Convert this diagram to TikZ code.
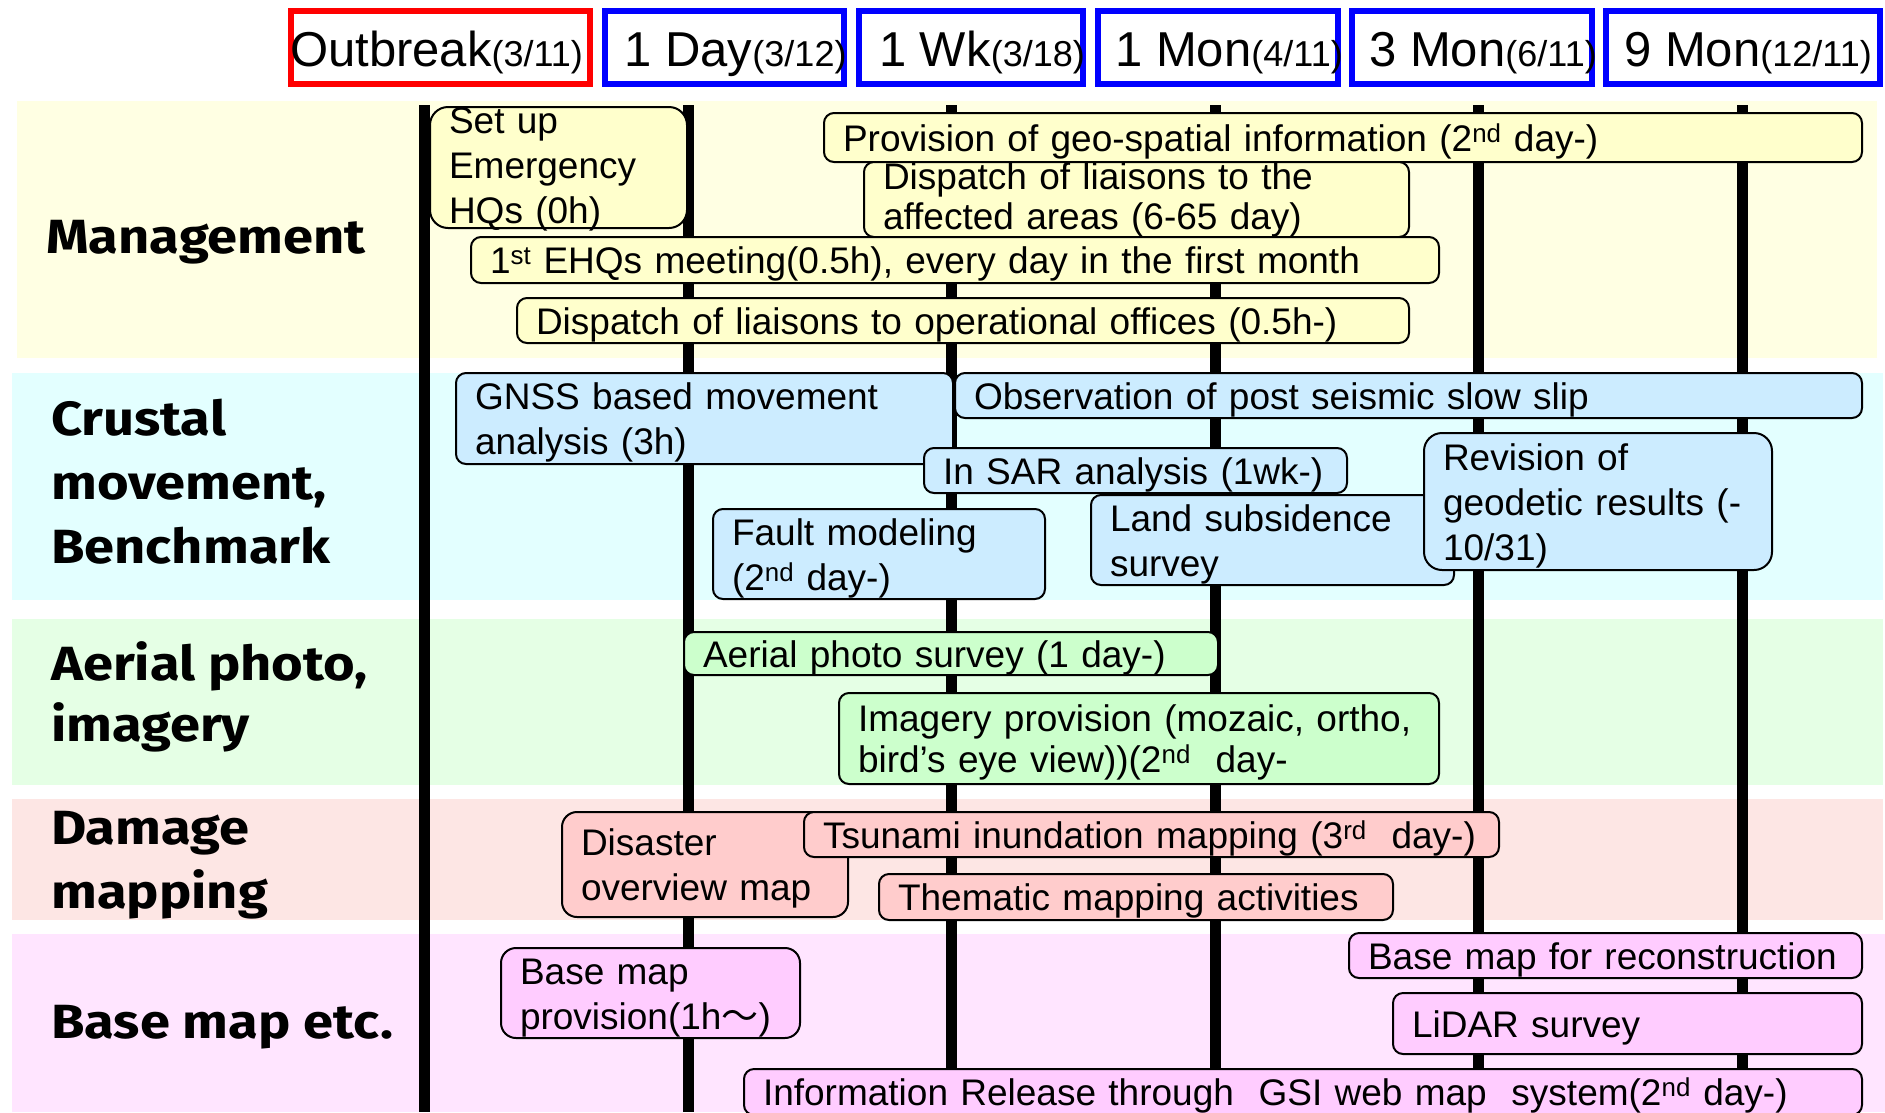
\documentclass[tikz,border=0pt]{standalone}
\usepackage{fontspec}
\setmainfont{Liberation Sans}
\newfontfamily\rowfont{Fira Sans}[FakeStretch=1.13]
\newfontfamily\cjkfont{Noto Sans CJK JP}

\definecolor{mgmtbg}{HTML}{FFFFE3}
\definecolor{mgmtbox}{HTML}{FFFFCC}
\definecolor{crustbg}{HTML}{E3FFFF}
\definecolor{crustbox}{HTML}{CCECFF}
\definecolor{aerialbg}{HTML}{E5FFE5}
\definecolor{aerialbox}{HTML}{CCFFCC}
\definecolor{damagebg}{HTML}{FDE6E4}
\definecolor{damagebox}{HTML}{FFCCCC}
\definecolor{basebg}{HTML}{FFE5FF}
\definecolor{basebox}{HTML}{FFCCFF}

\newcommand{\datetag}[1]{{\fontsize{36}{36}\selectfont #1}}

\tikzset{
  period/.style={draw=blue,line width=6pt,fill=white,inner sep=0pt,text height=38pt,text depth=0pt,
    font=\fontsize{49}{49}\selectfont,execute at begin node={\hskip#1},execute at end node={\hskip-#1}},
  period/.default=11pt,
  rowlabel/.style={anchor=base west,align=left,inner sep=0pt,font=\rowfont\bfseries\fontsize{48}{64}\selectfont},
  taskbase/.style={draw,line width=2pt,rounded corners=10pt,inner xsep=19pt,inner ysep=0pt,align=left,
    font=\fontsize{37}{45}\selectfont},
  task/.style={taskbase,execute at begin node={\rule{0pt}{35pt}}},
  timeline/.style={line width=11pt}
}

\begin{document}
\begin{tikzpicture}[x=1pt,y=-1pt]
    \useasboundingbox (0,0) rectangle (1885,1112);
    % row bands
    \fill[mgmtbg] (17,101) rectangle (1877,358);
    \fill[crustbg] (12,373) rectangle (1883,600);
    \fill[aerialbg] (12,619) rectangle (1883,785);
    \fill[damagebg] (12,799) rectangle (1883,920);
    \fill[basebg] (12,934) rectangle (1885,1112);

    \foreach \x in {424,688,951,1215,1478,1742}
        \draw[timeline] (\x,105) -- (\x,1112);

    % time axis
    \node[period=-4pt,draw=red,minimum width=299pt,minimum height=73pt] (outbreak) at (440.5,47.5) {Outbreak\datetag{(3/11)}};
    \node[period,minimum width=239pt,minimum height=73pt] (day1) at (724.5,47.5) {1 Day\datetag{(3/12)}};
    \node[period,minimum width=224pt,minimum height=73pt] (wk1) at (971,47.5) {1 Wk\datetag{(3/18)}};
    \node[period,minimum width=240pt,minimum height=73pt] (mon1) at (1218,47.5) {1 Mon\datetag{(4/11)}};
    \node[period,minimum width=240pt,minimum height=73pt] (mon3) at (1472,47.5) {3 Mon\datetag{(6/11)}};
    \node[period=5pt,minimum width=274pt,minimum height=73pt] (mon9) at (1743,47.5) {9 Mon\datetag{(12/11)}};

    % row labels (base = last line)
    \node[rowlabel] (mgmt) at (46,253) {Management};
    \node[rowlabel] (crust) at (51,563) {Crustal\\movement,\\Benchmark};
    \node[rowlabel,font=\rowfont\bfseries\fontsize{48}{61}\selectfont] (aerial) at (51,741) {Aerial photo,\\imagery};
    \node[rowlabel] (damage) at (51,908) {Damage\\mapping};
    \node[rowlabel] (basemap) at (51,1038) {Base map etc.};

    % management
    \node[taskbase,fill=mgmtbox,text width=219pt,minimum height=121pt,rounded corners=18pt,
        text depth=94pt] (setup) at (558.5,167.5) {Set up\\Emergency\\HQs (0h)};
    \node[task,fill=mgmtbox,text width=1000pt,minimum height=49pt] (geoinfo) at (1343,137.5) {Provision of geo-spatial information (2\textsuperscript{nd} day-)};
    \node[taskbase,fill=mgmtbox,text width=507pt,minimum height=75pt,
        font=\fontsize{37}{40}\selectfont] (liaisons) at (1136.5,199.5) {Dispatch of liaisons to the\\affected areas (6-65 day)};
    \node[task,fill=mgmtbox,text width=930pt,minimum height=46pt] (meeting) at (955,260) {1\textsuperscript{st} EHQs meeting(0.5h), every day in the first month};
    \node[task,fill=mgmtbox,text width=854pt,minimum height=45pt] (offices) at (963,320.5) {Dispatch of liaisons to operational offices (0.5h-)};

    % crustal movement
    \node[task,fill=crustbox,text width=459pt,minimum height=91pt] (gnss) at (704.5,418.5) {GNSS based movement\\analysis (3h)};
    \node[task,fill=crustbox,text width=869pt,minimum height=45pt] (slowslip) at (1408.5,395.5) {Observation of post seismic slow slip};
    \node[task,fill=crustbox,text width=385pt,minimum height=45pt] (insar) at (1135.5,470.5) {In SAR analysis (1wk-)};
    \node[task,fill=crustbox,text width=294pt,minimum height=90pt] (fault) at (879,554) {Fault modeling\\(2\textsuperscript{nd} day-)};
    \node[task,fill=crustbox,text width=325pt,minimum height=90pt] (subsidence) at (1272.5,540) {Land subsidence\\survey};
    \node[task,fill=crustbox,text width=310pt,minimum height=137pt,rounded corners=18pt] (geodetic) at (1598,501.5) {Revision of\\geodetic results (-\\10/31)};

    % aerial photo
    \node[task,fill=aerialbox,text width=496pt,minimum height=43pt] (photo) at (951,653.5) {Aerial photo survey (1 day-)};
    \node[task,fill=aerialbox,text width=562pt,minimum height=91pt,font=\fontsize{37}{41}\selectfont] (imagery) at (1139,738.5) {Imagery provision (mozaic, ortho,\\bird’s eye view))(2\textsuperscript{nd}\ \ day-};

    % damage mapping
    \node[task,fill=damagebox,text width=248pt,minimum height=105pt,rounded corners=15pt] (overview) at (705,864.5) {Disaster\\overview map};
    \node[task,fill=damagebox,text width=657pt,minimum height=45pt] (tsunami) at (1151.5,834.5) {Tsunami inundation mapping (3\textsuperscript{rd}\ \ day-)};
    \node[task,fill=damagebox,text width=476pt,minimum height=46pt] (thematic) at (1136,897) {Thematic mapping activities};

    % base map
    \node[task,fill=basebox,text width=261pt,minimum height=90pt,rounded corners=15pt] (provision) at (650.5,993) {Base map\\provision(1h{\cjkfont ～})};
    \node[task,fill=basebox,text width=475pt,minimum height=45pt] (recon) at (1605.5,955.5) {Base map for reconstruction};
    \node[task,fill=basebox,text width=431pt,minimum height=61pt] (lidar) at (1627.5,1023.5) {LiDAR survey};
    \node[task,fill=basebox,text width=1080pt,minimum height=46pt] (release) at (1303,1092) {Information Release through\ \ GSI web map\ \ system(2\textsuperscript{nd} day-)};
\end{tikzpicture}
\end{document}
